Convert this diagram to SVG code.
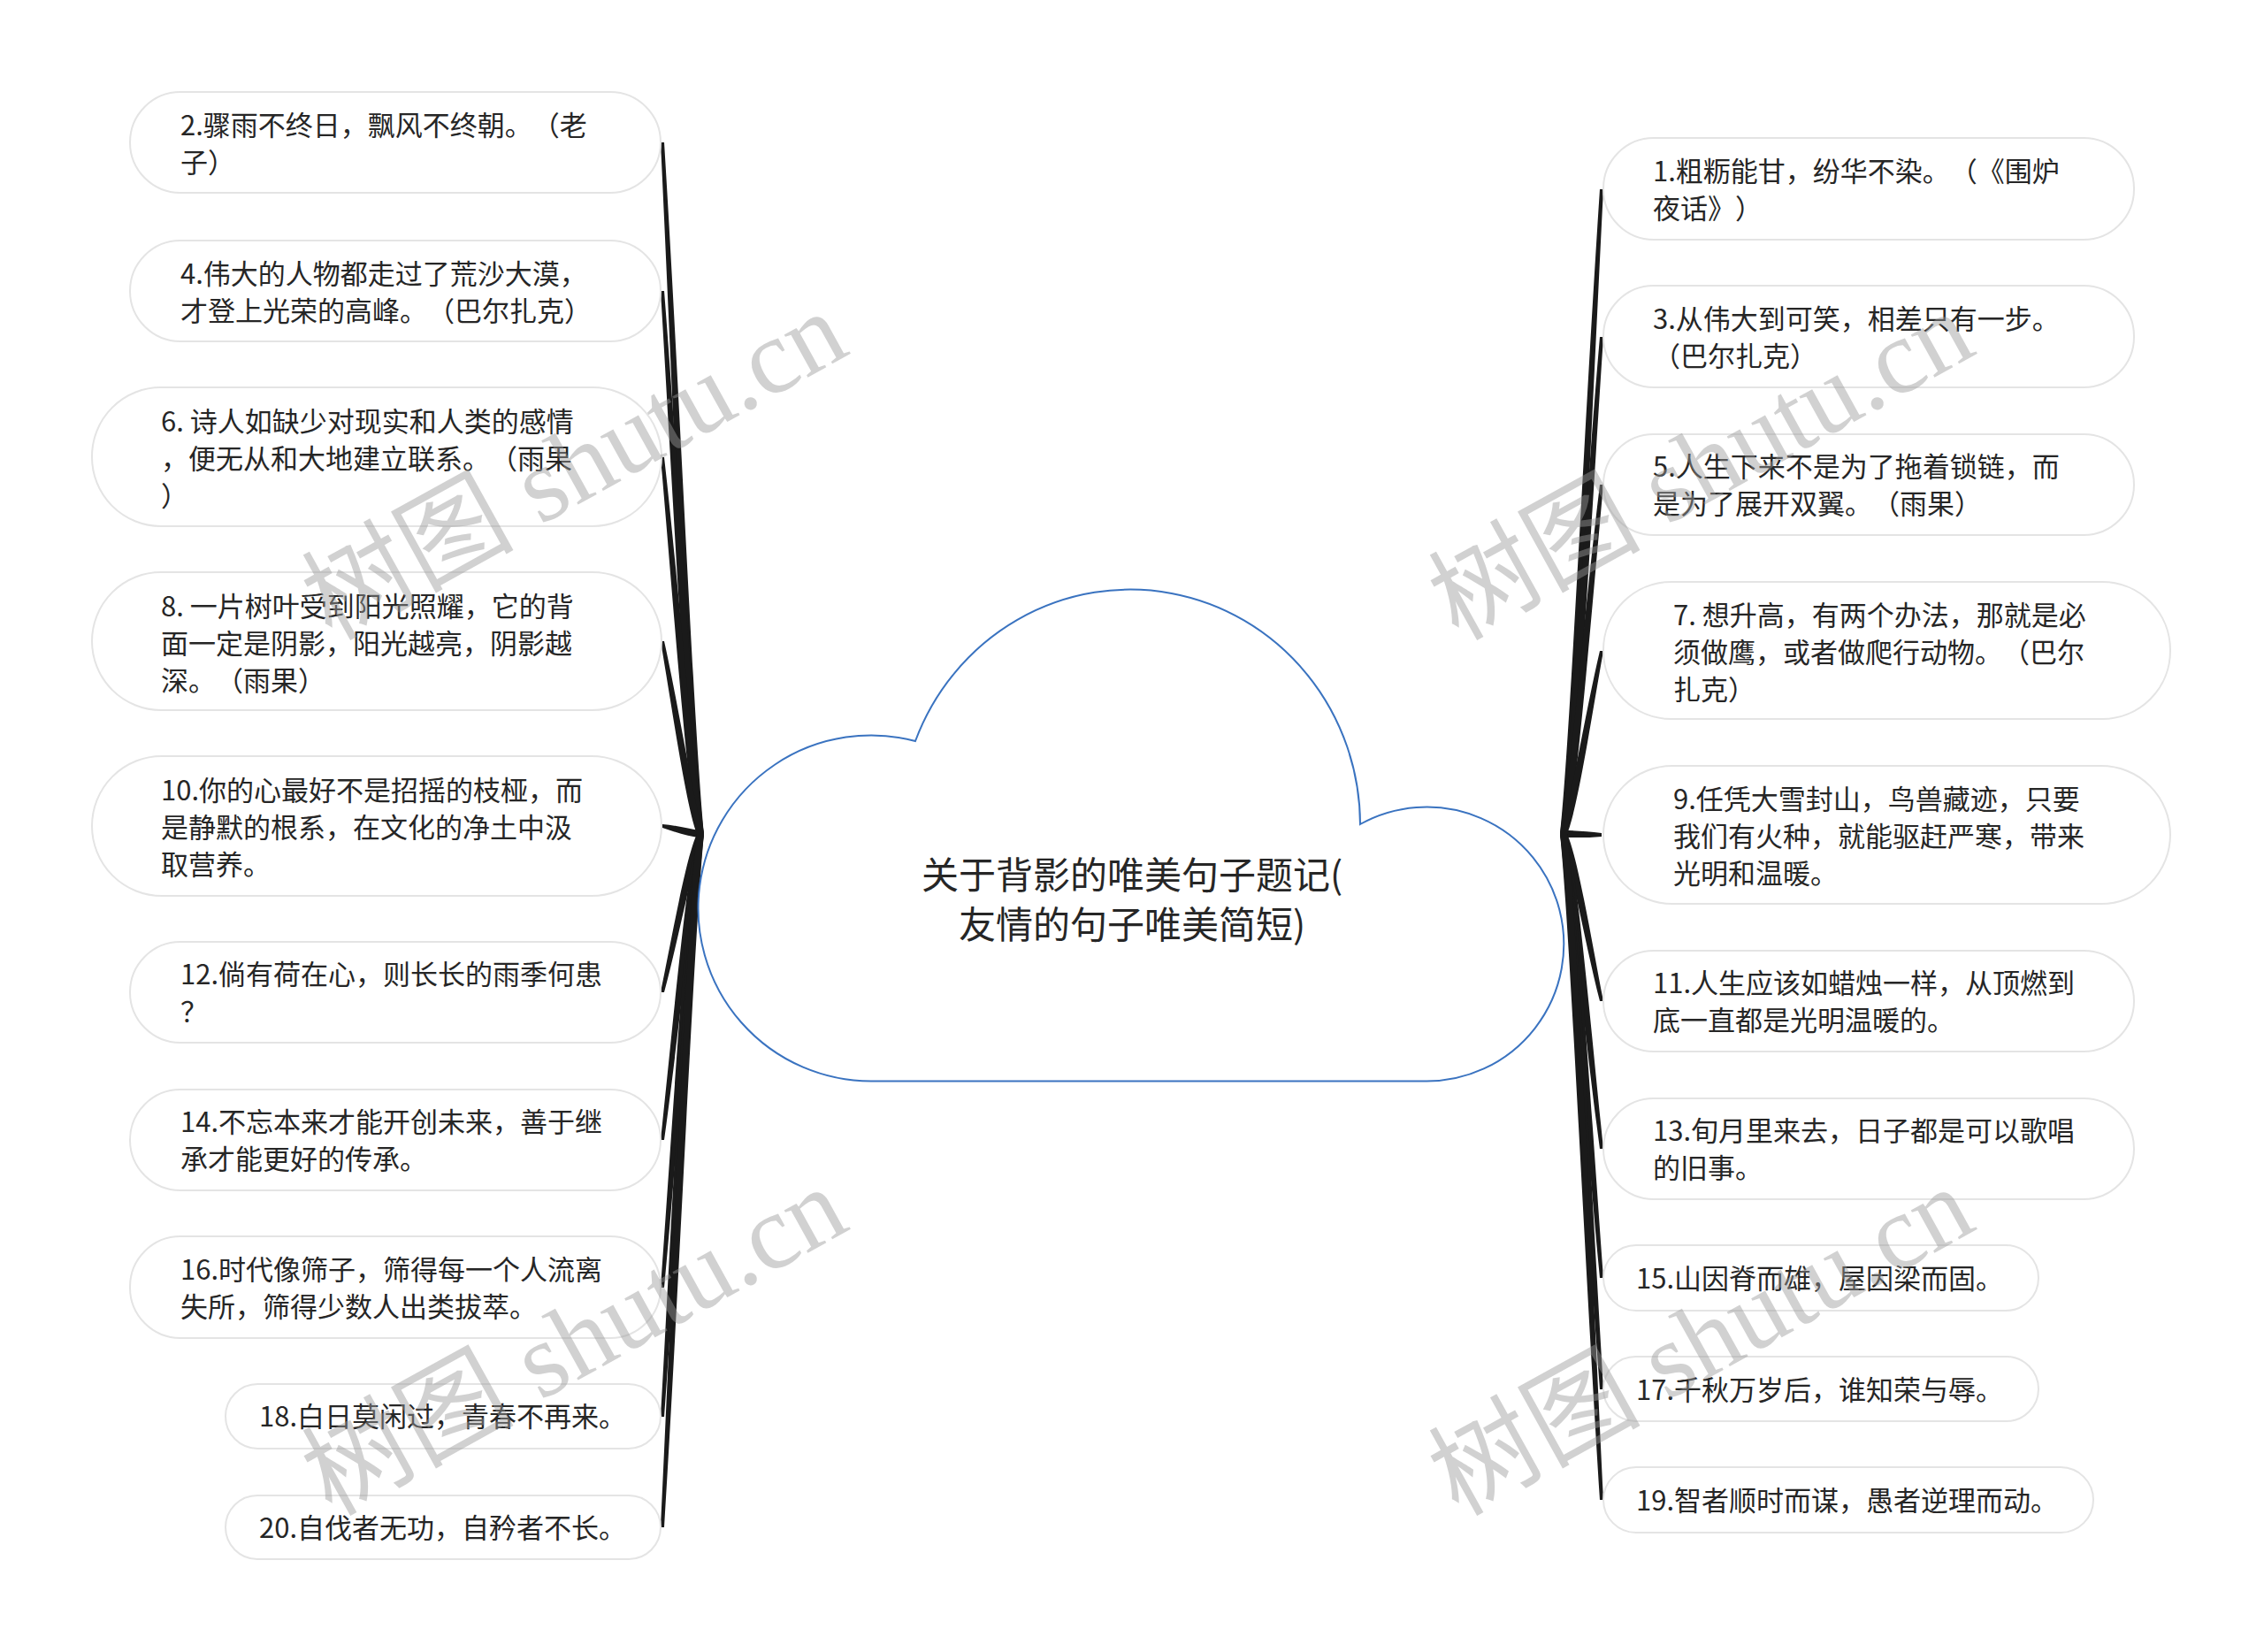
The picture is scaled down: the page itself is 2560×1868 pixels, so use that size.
<svg xmlns="http://www.w3.org/2000/svg" width="2560" height="1868" viewBox="0 0 2560 1868">
<style>
.node rect{fill:#ffffff;stroke:#e4e4e4;stroke-width:2}
.node text{font-family:"Noto Sans CJK SC","Noto Sans",sans-serif;font-size:31px;fill:#262626;text-spacing-trim:space-all}
.conn path{fill:#1a1a1a}
.title text{font-family:"Noto Sans CJK SC","Noto Sans",sans-serif;font-size:42px;fill:#262626;text-anchor:middle;text-spacing-trim:space-all}
.wm{font-family:"Liberation Serif","Noto Sans CJK SC",serif;font-size:120px;fill:#9a9a9a;opacity:0.45;text-anchor:middle}
</style>
<rect x="0" y="0" width="2560" height="1868" fill="#ffffff"/>
<g class="conn" id="connectors">
<path d="M 747 161 C 760 435 775.5 826 788 943 L 796 943 C 784.5 826 768 435 751 161 Z"/>
<path d="M 747 329 C 760 544 775.5 851 788 943 L 796 943 C 784.5 851 768 544 751 329 Z"/>
<path d="M 747 517 C 760 666 775.5 879 788 943 L 796 943 C 784.5 879 768 666 751 517 Z"/>
<path d="M 747 725 C 760 801 775.5 910 788 943 L 796 943 C 784.5 910 768 801 751 725 Z"/>
<path d="M 749 932 C 764 933 780 937.5 792 939 L 792 947 C 780 946.5 764 941 749 936 Z"/>
<path d="M 747 1122 C 760 1059 775.5 970 788 943 L 796 943 C 784.5 970 768 1059 751 1122 Z"/>
<path d="M 747 1289 C 760 1168 775.5 995 788 943 L 796 943 C 784.5 995 768 1168 751 1289 Z"/>
<path d="M 747 1456 C 760 1276 775.5 1020 788 943 L 796 943 C 784.5 1020 768 1276 751 1456 Z"/>
<path d="M 747 1602 C 760 1371 775.5 1042 788 943 L 796 943 C 784.5 1042 768 1371 751 1602 Z"/>
<path d="M 747 1727 C 760 1453 775.5 1061 788 943 L 796 943 C 784.5 1061 768 1453 751 1727 Z"/>
<path d="M 1813 214 C 1800 469 1784.5 834 1772 943 L 1764 943 C 1775.5 834 1792 469 1809 214 Z"/>
<path d="M 1813 381 C 1800 578 1784.5 859 1772 943 L 1764 943 C 1775.5 859 1792 578 1809 381 Z"/>
<path d="M 1813 548 C 1800 686 1784.5 884 1772 943 L 1764 943 C 1775.5 884 1792 686 1809 548 Z"/>
<path d="M 1813 736 C 1800 808 1784.5 912 1772 943 L 1764 943 C 1775.5 912 1792 808 1809 736 Z"/>
<path d="M 1811 942 C 1796 940 1780 939 1768 939 L 1768 947 C 1780 947 1796 947.5 1811 946 Z"/>
<path d="M 1813 1132 C 1800 1066 1784.5 971 1772 943 L 1764 943 C 1775.5 971 1792 1066 1809 1132 Z"/>
<path d="M 1813 1299 C 1800 1174 1784.5 996 1772 943 L 1764 943 C 1775.5 996 1792 1174 1809 1299 Z"/>
<path d="M 1813 1445 C 1800 1269 1784.5 1018 1772 943 L 1764 943 C 1775.5 1018 1792 1269 1809 1445 Z"/>
<path d="M 1813 1571 C 1800 1351 1784.5 1037 1772 943 L 1764 943 C 1775.5 1037 1792 1351 1809 1571 Z"/>
<path d="M 1813 1696 C 1800 1432 1784.5 1056 1772 943 L 1764 943 C 1775.5 1056 1792 1432 1809 1696 Z"/>
</g>
<g id="root" class="title">
<path d="M 985 1222.5 A 195.5 195.5 0 1 1 1035 838 A 260 266 0 0 1 1538 932 A 155 155 0 1 1 1613 1222.5 Z" fill="#ffffff" stroke="#3a73c0" stroke-width="2"/>
<text x="1280" y="1005">关于背影的唯美句子题记(</text>
<text x="1280" y="1061">友情的句子唯美简短)</text>
</g>
<g id="n2" class="node"><rect x="147" y="104" width="600" height="114" rx="57"/><text x="204" y="153">2.骤雨不终日，飘风不终朝。（老</text><text x="204" y="195">子）</text></g>
<g id="n4" class="node"><rect x="147" y="272" width="600" height="114" rx="57"/><text x="204" y="321">4.伟大的人物都走过了荒沙大漠，</text><text x="204" y="363">才登上光荣的高峰。（巴尔扎克）</text></g>
<g id="n6" class="node"><rect x="104" y="438" width="644" height="157" rx="78"/><text x="182" y="488">6. 诗人如缺少对现实和人类的感情</text><text x="182" y="530">，便无从和大地建立联系。（雨果</text><text x="182" y="572">）</text></g>
<g id="n8" class="node"><rect x="104" y="647" width="644" height="156" rx="78"/><text x="182" y="697">8. 一片树叶受到阳光照耀，它的背</text><text x="182" y="739">面一定是阴影，阳光越亮，阴影越</text><text x="182" y="781">深。（雨果）</text></g>
<g id="n10" class="node"><rect x="104" y="855" width="644" height="158" rx="79"/><text x="182" y="905">10.你的心最好不是招摇的枝桠，而</text><text x="182" y="947">是静默的根系，在文化的净土中汲</text><text x="182" y="989">取营养。</text></g>
<g id="n12" class="node"><rect x="147" y="1065" width="600" height="114" rx="57"/><text x="204" y="1113">12.倘有荷在心，则长长的雨季何患</text><text x="204" y="1155">？</text></g>
<g id="n14" class="node"><rect x="147" y="1232" width="600" height="114" rx="57"/><text x="204" y="1280">14.不忘本来才能开创未来，善于继</text><text x="204" y="1322">承才能更好的传承。</text></g>
<g id="n16" class="node"><rect x="147" y="1398" width="600" height="115" rx="57"/><text x="204" y="1447">16.时代像筛子，筛得每一个人流离</text><text x="204" y="1489">失所，筛得少数人出类拔萃。</text></g>
<g id="n18" class="node"><rect x="255" y="1565" width="492" height="73" rx="36.5"/><text x="293" y="1613">18.白日莫闲过，青春不再来。</text></g>
<g id="n20" class="node"><rect x="255" y="1691" width="492" height="72" rx="36"/><text x="293" y="1739">20.自伐者无功，自矜者不长。</text></g>
<g id="n1" class="node"><rect x="1813" y="156" width="600" height="115" rx="57"/><text x="1869" y="205">1.粗粝能甘，纷华不染。（《围炉</text><text x="1869" y="247">夜话》）</text></g>
<g id="n3" class="node"><rect x="1813" y="323" width="600" height="115" rx="57"/><text x="1869" y="372">3.从伟大到可笑，相差只有一步。</text><text x="1869" y="414">（巴尔扎克）</text></g>
<g id="n5" class="node"><rect x="1813" y="491" width="600" height="114" rx="57"/><text x="1869" y="539">5.人生下来不是为了拖着锁链，而</text><text x="1869" y="581">是为了展开双翼。（雨果）</text></g>
<g id="n7" class="node"><rect x="1813" y="658" width="641" height="155" rx="77"/><text x="1892" y="707">7. 想升高，有两个办法，那就是必</text><text x="1892" y="749">须做鹰，或者做爬行动物。（巴尔</text><text x="1892" y="791">扎克）</text></g>
<g id="n9" class="node"><rect x="1813" y="866" width="641" height="156" rx="78"/><text x="1892" y="915">9.任凭大雪封山，鸟兽藏迹，只要</text><text x="1892" y="957">我们有火种，就能驱赶严寒，带来</text><text x="1892" y="999">光明和温暖。</text></g>
<g id="n11" class="node"><rect x="1813" y="1075" width="600" height="114" rx="57"/><text x="1869" y="1123">11.人生应该如蜡烛一样，从顶燃到</text><text x="1869" y="1165">底一直都是光明温暖的。</text></g>
<g id="n13" class="node"><rect x="1813" y="1242" width="600" height="114" rx="57"/><text x="1869" y="1290">13.旬月里来去，日子都是可以歌唱</text><text x="1869" y="1332">的旧事。</text></g>
<g id="n15" class="node"><rect x="1813" y="1408" width="492" height="74" rx="37"/><text x="1850" y="1457">15.山因脊而雄，屋因梁而固。</text></g>
<g id="n17" class="node"><rect x="1813" y="1534" width="492" height="73" rx="36.5"/><text x="1850" y="1583">17.千秋万岁后，谁知荣与辱。</text></g>
<g id="n19" class="node"><rect x="1813" y="1659" width="554" height="74" rx="37"/><text x="1850" y="1708">19.智者顺时而谋，愚者逆理而动。</text></g>
<g id="watermarks">
<text class="wm" transform="translate(669,562) rotate(-29)">树图 shutu.cn</text>
<text class="wm" transform="translate(1943,562) rotate(-29)">树图 shutu.cn</text>
<text class="wm" transform="translate(669,1552) rotate(-29)">树图 shutu.cn</text>
<text class="wm" transform="translate(1943,1552) rotate(-29)">树图 shutu.cn</text>
</g>
</svg>
